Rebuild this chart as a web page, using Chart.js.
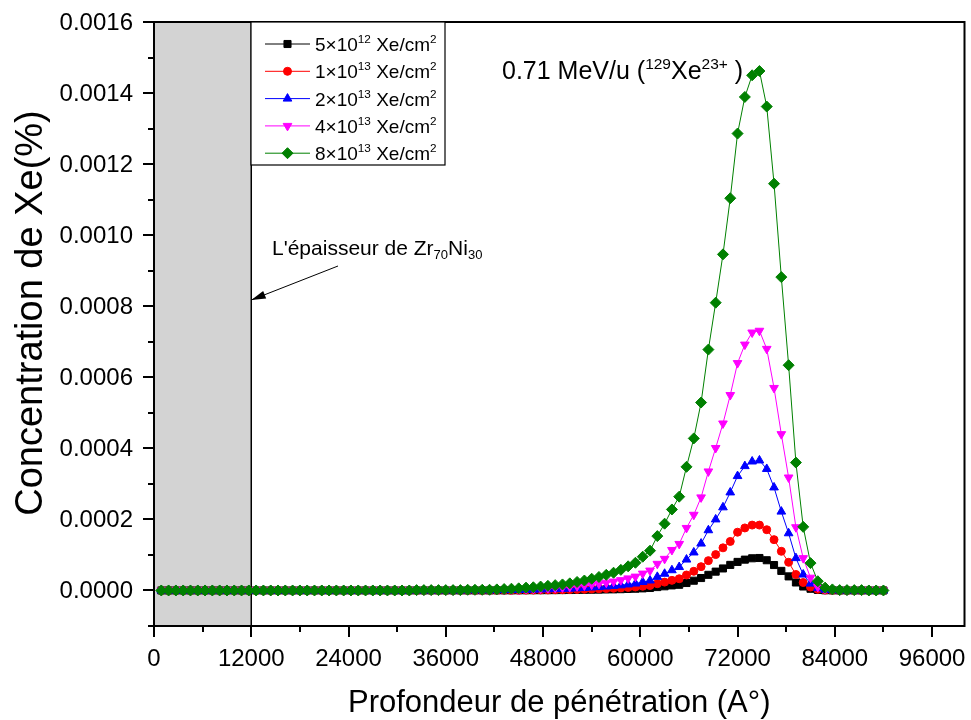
<!DOCTYPE html>
<html>
<head>
<meta charset="utf-8">
<script src="https://cdn.jsdelivr.net/npm/chart.js@4/dist/chart.umd.min.js"></script>
<style>
  html, body { margin: 0; padding: 0; background: #fff; }
  #wrap { width: 971px; height: 720px; position: relative; }
</style>
</head>
<body>
<div id="wrap"><canvas id="xeChart"></canvas></div>
<script>
// Depth of each SRIM bin (Angstrom)
const depth = [
  900, 1800, 2700, 3600, 4500, 5400, 6300, 7200, 8100, 9000,
  9900, 10800, 11700, 12600, 13500, 14400, 15300, 16200, 17100, 18000,
  18900, 19800, 20700, 21600, 22500, 23400, 24300, 25200, 26100, 27000,
  27900, 28800, 29700, 30600, 31500, 32400, 33300, 34200, 35100, 36000,
  36900, 37800, 38700, 39600, 40500, 41400, 42300, 43200, 44100, 45000,
  45900, 46800, 47700, 48600, 49500, 50400, 51300, 52200, 53100, 54000,
  54900, 55800, 56700, 57600, 58500, 59400, 60300, 61200, 62100, 63000,
  63900, 64800, 65700, 66600, 67500, 68400, 69300, 70200, 71100, 72000,
  72900, 73800, 74700, 75600, 76500, 77400, 78300, 79200, 80100, 81000,
  81900, 82800, 83700, 84600, 85500, 86400, 87300, 88200, 89100, 90000
];

// Xe concentration per bin, in units of 1e-6 %
const conc5e12 = [
  0, 0, 0, 0, 0, 0, 0, 0, 0, 0,
  0, 0, 0, 0, 0, 0, 0, 0, 0, 0,
  0, 0, 0, 0, 0, 0, 0, 0, 0, 0,
  0, 0, 0, 0, 0, 0.1, 0.1, 0.1, 0.1, 0.1,
  0.1, 0.1, 0.1, 0.1, 0.1, 0.1, 0.2, 0.25, 0.3, 0.4,
  0.5, 0.6, 0.7, 0.8, 0.9, 1.1, 1.3, 1.5, 1.8, 2.1,
  2.4, 2.8, 3.1, 3.6, 4.3, 4.9, 5.9, 7, 9.6, 11.8,
  14.3, 16, 21, 27.5, 35, 44, 53, 62, 72, 80.4,
  86.8, 90.6, 91.4, 85.1, 71.6, 55.1, 39.6, 22.5, 11.2, 4.8,
  1.6, 0.5, 0.2, 0, 0, 0, 0, 0, 0, 0
];
const conc1e13 = [
  0, 0, 0, 0, 0, 0, 0, 0, 0, 0,
  0, 0, 0, 0, 0, 0, 0, 0, 0, 0,
  0, 0, 0, 0, 0, 0, 0, 0, 0, 0,
  0, 0, 0, 0, 0, 0.2, 0.2, 0.2, 0.2, 0.2,
  0.2, 0.2, 0.2, 0.2, 0.2, 0.2, 0.4, 0.5, 0.6, 0.75,
  1, 1.1, 1.4, 1.6, 1.9, 2.1, 2.5, 3, 3.5, 4.1,
  4.8, 5.5, 6.3, 7.3, 8.5, 9.8, 11.9, 14, 19.1, 23.5,
  28.5, 33, 43.5, 54, 67, 84, 101, 120, 138, 164,
  176, 184, 184, 171, 143.1, 110.3, 79.3, 45, 22.4, 9.6,
  3.3, 1, 0.3, 0.1, 0.1, 0.1, 0.1, 0, 0, 0
];
const conc2e13 = [
  0, 0, 0, 0, 0, 0, 0, 0, 0, 0,
  0, 0, 0, 0, 0, 0, 0, 0, 0, 0,
  0, 0, 0, 0, 0, 0, 0, 0, 0, 0,
  0, 0, 0, 0, 0, 0.3, 0.3, 0.3, 0.3, 0.3,
  0.3, 0.3, 0.5, 0.5, 0.5, 0.5, 0.8, 1, 1.3, 1.5,
  2, 2.3, 2.8, 3.3, 3.8, 4.3, 5, 6, 7, 8.3,
  9.5, 11, 12.5, 14.5, 17, 19.5, 23.8, 28, 38.3, 47,
  57, 66, 87, 107, 132, 169.5, 200, 234, 276, 322,
  350, 363, 366, 342, 290, 222, 161, 91, 44.8, 19.3,
  6.5, 2, 0.8, 0.3, 0.3, 0.3, 0.3, 0, 0, 0
];
const conc4e13 = [
  0, 0, 0, 0, 0, 0, 0, 0, 0, 0,
  0, 0, 0, 0, 0, 0, 0, 0, 0, 0,
  0, 0, 0, 0, 0, 0, 0, 0, 0, 0,
  0, 0, 0, 0, 0, 0.5, 0.5, 0.5, 0.5, 0.5,
  0.5, 0.5, 1, 1, 1, 1, 1.5, 2, 2.5, 3,
  4, 4.5, 5.5, 6.5, 7.5, 8.5, 10, 12, 14, 16.5,
  19, 22, 25, 29, 34, 39, 47.5, 56, 75, 89,
  114, 131, 176, 213, 262, 335, 401, 470, 550, 640,
  692, 726, 731, 680, 570, 440, 318, 178, 91, 36,
  10, 4, 1.5, 0.5, 0.5, 0.5, 0.5, 0, 0, 0
];
const conc8e13 = [
  0, 0, 0, 0, 0, 0, 0, 0, 0, 0,
  0, 0, 0, 0, 0, 0, 0, 0, 0, 0,
  0, 0, 0, 0, 0, 0, 0, 0, 0, 0,
  0, 0, 0, 0, 0, 1, 1, 1, 1, 1,
  1, 1, 2, 2, 2, 2, 3, 4, 5, 6,
  8, 9, 11, 13, 15, 17, 20, 24, 28, 33,
  38, 44, 50, 58, 68, 78, 95, 112, 153, 188,
  228, 264, 348, 428, 529, 678, 810, 946, 1104, 1286,
  1389, 1450, 1462, 1362, 1145, 882, 634, 360, 179, 77,
  26, 8, 3, 1, 1, 1, 1, 0, 0, 0
];

// Fluence labels: mantissa, power of ten
const fluenceMantissa = ['5', '1', '2', '4', '8'];
const fluenceExponent = ['12', '13', '13', '13', '13'];
const seriesValues = [conc5e12, conc1e13, conc2e13, conc4e13, conc8e13];

const xTickLabels = [0, 12000, 24000, 36000, 48000, 60000, 72000, 84000, 96000];
const yTickLabels = [0, 0.0002, 0.0004, 0.0006, 0.0008, 0.0010, 0.0012, 0.0014, 0.0016];

// Zr70Ni30 layer thickness (shaded band)
const layerStart = 0;
const layerEnd = 12000;

const FONT = "'Liberation Sans', Arial, Helvetica, sans-serif";
const UNIT = 1e-6;

const styles = [
  { color: '#000000', pointStyle: 'rect',     radius: 5,   rotation: 0 },
  { color: '#ff0000', pointStyle: 'circle',   radius: 4,   rotation: 0 },
  { color: '#0000ff', pointStyle: 'triangle', radius: 5,   rotation: 0 },
  { color: '#ff00ff', pointStyle: 'triangle', radius: 5,   rotation: 180 },
  { color: '#008000', pointStyle: 'rectRot',  radius: 5.5, rotation: 0 }
];

const datasets = seriesValues.map((vals, i) => ({
  label: fluenceMantissa[i] + 'x10^' + fluenceExponent[i] + ' Xe/cm2',
  data: depth.map((d, k) => ({ x: d, y: vals[k] * UNIT })),
  borderColor: styles[i].color,
  backgroundColor: styles[i].color,
  borderWidth: 1,
  pointStyle: styles[i].pointStyle,
  pointRadius: styles[i].radius,
  pointRotation: styles[i].rotation,
  pointBorderWidth: 1,
  pointHoverRadius: styles[i].radius,
  showLine: true,
  tension: 0,
  order: 4 - i // highest fluence on top
}));

// Writes a run of text pieces; pieces may be raised (sup) or lowered (sub)
function drawRich(ctx, x, y, pieces, size) {
  let cx = x;
  pieces.forEach(p => {
    let fs = size, dy = 0;
    if (p.sup) { fs = size * 0.62; dy = -size * 0.42; }
    if (p.sub) { fs = size * 0.62; dy = size * 0.2; }
    ctx.font = fs + 'px ' + FONT;
    ctx.fillText(p.t, cx, y + dy);
    cx += ctx.measureText(p.t).width;
  });
  return cx;
}

function drawMarker(ctx, style, x, y) {
  ctx.fillStyle = style.color;
  ctx.strokeStyle = style.color;
  ctx.lineWidth = 1;
  Chart.helpers.drawPoint(ctx, {
    pointStyle: style.pointStyle,
    rotation: style.rotation,
    radius: style.radius,
    borderWidth: 1
  }, x, y);
}

const decorations = {
  id: 'decorations',
  beforeDatasetsDraw(chart) {
    const { ctx, chartArea: a, scales: { x } } = chart;
    const x0 = x.getPixelForValue(layerStart);
    const x1 = x.getPixelForValue(layerEnd);
    ctx.save();
    ctx.fillStyle = '#d3d3d3';
    ctx.fillRect(x0, a.top, x1 - x0, a.bottom - a.top);
    ctx.strokeStyle = '#000';
    ctx.lineWidth = 1.5;
    ctx.beginPath();
    ctx.moveTo(x1, a.top);
    ctx.lineTo(x1, a.bottom);
    ctx.stroke();
    ctx.restore();
  },
  afterDatasetsDraw(chart) {
    const { ctx, chartArea: a, scales: { x, y } } = chart;
    ctx.save();

    // frame
    ctx.strokeStyle = '#000';
    ctx.lineWidth = 2;
    ctx.strokeRect(a.left, a.top, a.right - a.left, a.bottom - a.top);

    // major and minor ticks, pointing outwards
    ctx.beginPath();
    for (let v = 0; v <= 96000; v += 6000) {
      const px = Math.round(x.getPixelForValue(v));
      const len = v % 12000 === 0 ? 11 : 6;
      ctx.moveTo(px, a.bottom);
      ctx.lineTo(px, a.bottom + len);
    }
    for (let k = -1; k <= 16; k++) {
      const py = Math.round(y.getPixelForValue(k * 0.0001));
      const len = k % 2 === 0 ? 11 : 6;
      ctx.moveTo(a.left, py);
      ctx.lineTo(a.left - len, py);
    }
    ctx.stroke();

    // tick labels
    ctx.fillStyle = '#000';
    ctx.font = '24px ' + FONT;
    ctx.textBaseline = 'alphabetic';
    ctx.textAlign = 'center';
    xTickLabels.forEach(v => {
      ctx.fillText(String(v), x.getPixelForValue(v), a.bottom + 40);
    });
    ctx.textAlign = 'right';
    ctx.textBaseline = 'middle';
    yTickLabels.forEach(v => {
      ctx.fillText(v.toFixed(4), a.left - 21, y.getPixelForValue(v) + 1);
    });

    // legend box
    ctx.textBaseline = 'alphabetic';
    ctx.textAlign = 'left';
    const lx = a.left + 97, ly = a.top, lw = 194, lh = 143;
    ctx.fillStyle = '#fff';
    ctx.fillRect(lx, ly, lw, lh);
    ctx.lineWidth = 1.2;
    ctx.strokeStyle = '#000';
    ctx.strokeRect(lx, ly, lw, lh);
    styles.forEach((s, i) => {
      const ry = ly + 22 + i * 27.3;
      ctx.strokeStyle = s.color;
      ctx.lineWidth = 1;
      ctx.beginPath();
      ctx.moveTo(lx + 14, ry);
      ctx.lineTo(lx + 59, ry);
      ctx.stroke();
      drawMarker(ctx, s, lx + 36.5, ry);
      ctx.fillStyle = '#000';
      drawRich(ctx, lx + 64, ry + 7, [
        { t: fluenceMantissa[i] + '\u00d710' },
        { t: fluenceExponent[i], sup: true },
        { t: ' Xe/cm' },
        { t: '2', sup: true }
      ], 19);
    });

    // beam label
    ctx.fillStyle = '#000';
    drawRich(ctx, a.left + 348, a.top + 57, [
      { t: '0.71 MeV/u (' },
      { t: '129', sup: true },
      { t: 'Xe' },
      { t: '23+', sup: true },
      { t: ' )' }
    ], 25);

    // layer thickness note with arrow to the band edge
    drawRich(ctx, a.left + 118, a.top + 233, [
      { t: "L'\u00e9paisseur de Zr" },
      { t: '70', sub: true },
      { t: 'Ni' },
      { t: '30', sub: true }
    ], 21);
    const tipX = x.getPixelForValue(layerEnd), tipY = a.top + 278;
    const tailX = a.left + 184, tailY = a.top + 244;
    const ang = Math.atan2(tipY - tailY, tipX - tailX);
    ctx.strokeStyle = '#000';
    ctx.lineWidth = 1;
    ctx.beginPath();
    ctx.moveTo(tailX, tailY);
    ctx.lineTo(tipX, tipY);
    ctx.stroke();
    ctx.beginPath();
    ctx.moveTo(tipX, tipY);
    ctx.lineTo(tipX - 15 * Math.cos(ang - 0.28), tipY - 15 * Math.sin(ang - 0.28));
    ctx.lineTo(tipX - 15 * Math.cos(ang + 0.28), tipY - 15 * Math.sin(ang + 0.28));
    ctx.closePath();
    ctx.fillStyle = '#000';
    ctx.fill();

    // axis titles
    ctx.fillStyle = '#000';
    ctx.textAlign = 'center';
    ctx.font = '31px ' + FONT;
    ctx.fillText('Profondeur de p\u00e9n\u00e9tration (A\u00b0)', (a.left + a.right) / 2, 712);
    ctx.translate(42, 313);
    ctx.rotate(-Math.PI / 2);
    ctx.font = '38px ' + FONT;
    ctx.fillText('Concentration de Xe(%)', 0, 0);
    ctx.restore();
  }
};

new Chart(document.getElementById('xeChart'), {
  type: 'line',
  data: { datasets: datasets },
  options: {
    responsive: true,
    maintainAspectRatio: false,
    animation: false,
    events: [],
    layout: { padding: { top: 22, right: 6, bottom: 0, left: 0 } },
    plugins: {
      legend: { display: false },
      tooltip: { enabled: false }
    },
    scales: {
      x: {
        type: 'linear',
        min: 0,
        max: 100000,
        grid: { display: false, drawTicks: false },
        border: { display: false },
        ticks: { display: false },
        afterFit: (scale) => { scale.height = 94; }
      },
      y: {
        type: 'linear',
        min: -0.0001,
        max: 0.0016,
        grid: { display: false, drawTicks: false },
        border: { display: false },
        ticks: { display: false },
        afterFit: (scale) => { scale.width = 154; }
      }
    }
  },
  plugins: [decorations]
});
</script>
</body>
</html>
